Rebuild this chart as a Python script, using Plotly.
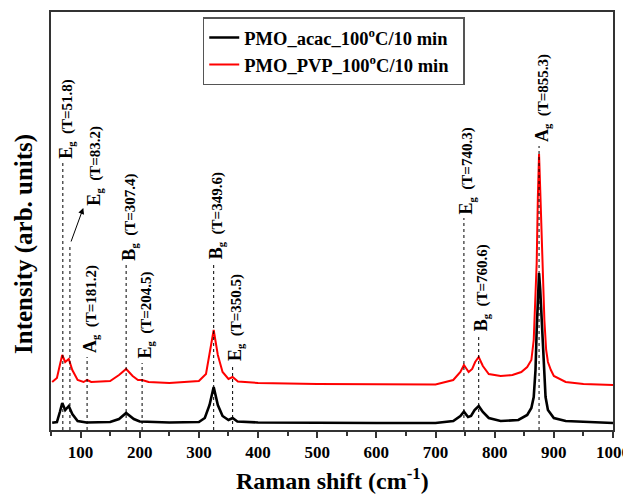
import plotly.graph_objects as go

# ---- data (intensity in arbitrary units) ----
raman_shift_acac = [52, 60, 65, 69, 74, 80, 86, 95, 110, 150, 165, 177, 190, 200, 250, 300, 310, 318,
                    325, 332, 340, 350, 357, 365, 400, 500, 600, 700, 730, 742, 748, 755, 760, 766,
                    773, 780, 790, 810, 840, 855, 862, 866, 869, 871, 873, 875, 877, 879, 881, 883,
                    886, 890, 900, 920, 960, 1000]
intensity_acac = [7.3, 8, 18, 27, 20, 24, 16, 9, 7.5, 8, 11, 17, 11, 8.5, 7.5, 8, 12, 25,
                  43, 25, 14, 10, 12, 8.5, 7.5, 7, 7, 7, 9, 14, 18.3, 13, 14, 20,
                  24, 18, 12, 9, 10, 15, 22, 33, 60, 100, 135, 157, 140, 115, 100, 60,
                  33, 20, 12, 9, 8, 7]

raman_shift_pvp = [52, 60, 65, 69, 74, 80, 86, 95, 105, 111, 118, 150, 165, 177, 188, 197, 204, 215,
                   250, 300, 312, 318, 325, 332, 340, 350, 357, 366, 400, 500, 600, 700, 730, 742,
                   748, 756, 762, 767, 773, 780, 790, 810, 830, 845, 855, 862, 866, 869, 871, 873,
                   875, 877, 879, 881, 884, 887, 890, 895, 900, 920, 950, 1000]
intensity_pvp = [48, 52, 65, 75, 68, 71, 60, 50, 48, 50, 48, 49, 55, 61, 54, 50, 50, 48,
                 47, 49, 56, 75, 100, 75, 58, 51, 53, 48.5, 47, 46, 45.5, 45.5, 50, 58,
                 65, 58, 61, 68, 73, 64, 56, 54, 55, 58, 63, 70, 90, 130, 167, 233,
                 276, 240, 200, 167, 110, 80, 68, 60, 54, 48, 46, 45]

peak_pos = [70, 82, 111, 177, 204, 325, 357, 748, 773, 875]
peak_top = [267, 185, 73, 165, 67, 167, 65, 212, 95, 284]
mode_sym = ["E", "E", "A", "B", "E", "B", "E", "E", "B", "A"]
theory = ["51.8", "83.2", "181.2", "307.4", "204.5", "349.6", "350.5", "740.3", "760.6", "855.3"]
label_x = [70, 117, 111, 177, 204, 325, 357, 748, 773, 875]
label_y = [269, 222, 75, 167, 69, 169, 67, 214, 97, 286]

x_ticks = [100, 200, 300, 400, 500, 600, 700, 800, 900, 1000]
series_names = ["PMO_acac_100<sup>o</sup>C/10 min", "PMO_PVP_100<sup>o</sup>C/10 min"]
x_title = "Raman shift (cm<sup>-1</sup>)"
y_title = "Intensity (arb. units)"

FONT = "Liberation Serif"

fig = go.Figure()
# red drawn first so the black trace sits on top, legend order fixed by legendrank
fig.add_trace(go.Scatter(x=raman_shift_pvp, y=intensity_pvp, mode="lines",
                         line=dict(color="#ff0000", width=2),
                         name="<b>" + series_names[1] + "</b>&nbsp;&nbsp;", legendrank=2, legendgroup="b"))
fig.add_trace(go.Scatter(x=raman_shift_acac, y=intensity_acac, mode="lines",
                         line=dict(color="#000000", width=2.6),
                         name="<b>" + series_names[0] + "</b>&nbsp;&nbsp;", legendrank=1, legendgroup="a"))

shapes = []
for p, t in zip(peak_pos, peak_top):
    shapes.append(dict(type="line", xref="x", yref="y", x0=p, x1=p, y0=0, y1=t,
                       line=dict(color="#000000", width=1, dash="dot"), layer="above"))

annotations = []
for sym, th, lx, ly in zip(mode_sym, theory, label_x, label_y):
    annotations.append(dict(
        x=lx, y=ly, xref="x", yref="y", showarrow=False, textangle=-90,
        xanchor="center", yanchor="bottom", xshift=3,
        text="<b><span style='font-size:18px'>" + sym + "</span><sub>g</sub>&nbsp; (T=" + th + ")</b>",
        font=dict(family=FONT, size=15, color="#000000")))

# arrow from the 82 cm-1 dotted line to its label
annotations.append(dict(x=104.6, y=222, ax=83, ay=187, xref="x", yref="y", axref="x", ayref="y",
                        text="", showarrow=True, arrowhead=2, arrowsize=1.2, arrowwidth=1,
                        arrowcolor="#000000", standoff=0, startstandoff=0))

# axis titles placed as annotations for exact placement
annotations.append(dict(x=0.5, y=0, xref="paper", yref="paper", showarrow=False,
                        xanchor="center", yanchor="middle", yshift=-49,
                        text="<b>" + x_title + "</b>",
                        font=dict(family=FONT, size=24, color="#000000")))
annotations.append(dict(x=0, y=0.445, xref="paper", yref="paper", showarrow=False,
                        xanchor="center", yanchor="middle", xshift=-27, textangle=-90,
                        text="<b>" + y_title + "</b>",
                        font=dict(family=FONT, size=25, color="#000000")))

# page body has an 8px margin: figure is sized/offset to compensate
fig.update_layout(
    width=623, height=487,
    margin=dict(l=43, r=18, t=4, b=65),
    paper_bgcolor="white", plot_bgcolor="white",
    font=dict(family=FONT, color="#000000"),
    shapes=shapes, annotations=annotations,
    showlegend=True,
    legend=dict(x=0.27, y=0.987, xanchor="left", yanchor="top",
                bordercolor="#555555", borderwidth=1.5, bgcolor="white",
                font=dict(family=FONT, size=18.5, color="#000000"),
                traceorder="grouped", tracegroupgap=0),
    xaxis=dict(range=[50, 1000], tickvals=x_ticks, ticks="outside", ticklen=6, tickwidth=1.5,
               tickcolor="#333333", automargin=False,
               minor=dict(dtick=50, tick0=50, ticks="outside", ticklen=4, tickwidth=1.5, tickcolor="#333333"),
               showline=True, linecolor="#333333", linewidth=1.5, mirror=True,
               showgrid=False, zeroline=False,
               tickfont=dict(family=FONT, size=17, color="#000000", weight="bold")),
    yaxis=dict(range=[0, 418], showticklabels=False, ticks="", showline=True, automargin=False,
               linecolor="#333333", linewidth=1.5, mirror=True, showgrid=False, zeroline=False),
)

fig.write_html("out.html")
